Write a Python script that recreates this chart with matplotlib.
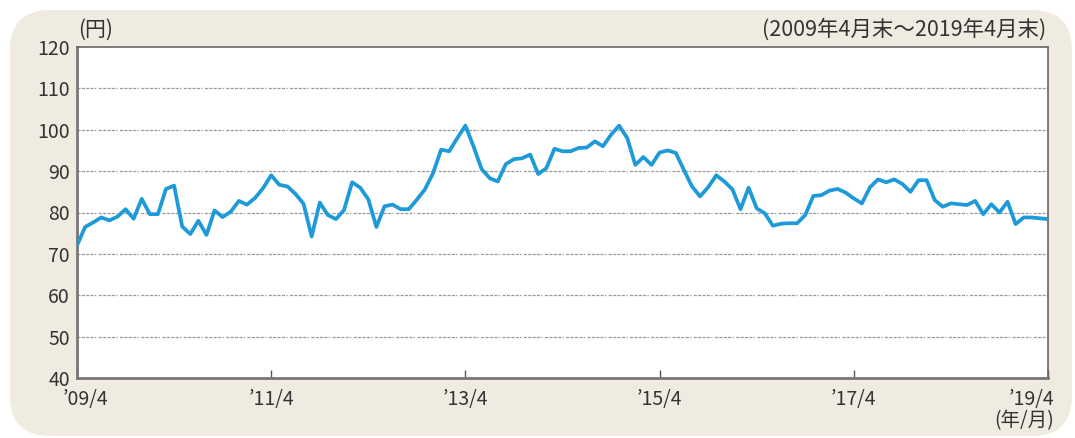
import matplotlib
matplotlib.use("Agg")
import matplotlib.pyplot as plt
from matplotlib.patches import FancyBboxPatch

plt.rcParams['font.family'] = ['Noto Sans CJK JP', 'DejaVu Sans']

values = [
    72.0, 76.5, 77.6, 78.8, 78.1, 79.0, 80.8, 78.5, 83.3, 79.6,
    79.6, 85.7, 86.5, 76.6, 74.8, 78.0, 74.6, 80.5, 78.9, 80.2,
    82.8, 81.9, 83.5, 85.9, 89.0, 86.7, 86.3, 84.5, 82.1, 74.2,
    82.4, 79.4, 78.4, 80.6, 87.3, 86.0, 83.2, 76.5, 81.5, 81.9,
    80.8, 80.8, 83.1, 85.6, 89.5, 95.2, 94.8, 98.0, 101.0, 96.0,
    90.5, 88.3, 87.5, 91.7, 92.9, 93.1, 94.0, 89.3, 90.7, 95.4,
    94.8, 94.8, 95.6, 95.7, 97.2, 96.0, 98.8, 101.0, 98.0, 91.5,
    93.4, 91.5, 94.5, 95.0, 94.4, 90.3, 86.3, 83.9, 86.1, 89.0,
    87.5, 85.6, 80.8, 86.0, 81.0, 79.8, 76.8, 77.3, 77.4, 77.4,
    79.4, 84.0, 84.2, 85.3, 85.7, 84.8, 83.4, 82.2, 86.1, 88.0,
    87.3, 88.0, 86.9, 85.0, 87.8, 87.8, 83.0, 81.4, 82.2, 82.0,
    81.8, 82.8, 79.6, 82.0, 80.0, 82.6, 77.2, 78.8, 78.8, 78.6,
    78.4,
]
months = list(range(len(values)))
xtick_pos = [0, 24, 48, 72, 96, 120]
xtick_labels = ["’09/4", "’11/4", "’13/4", "’15/4", "’17/4", "’19/4"]
yticks = [40, 50, 60, 70, 80, 90, 100, 110, 120]

W, H = 1075, 438
fig = plt.figure(figsize=(W / 100, H / 100), dpi=100)
fig.patch.set_facecolor('white')

bg = fig.add_axes([0, 0, 1, 1], zorder=-5)
bg.set_xlim(0, W)
bg.set_ylim(0, H)
bg.axis('off')
bg.add_patch(FancyBboxPatch((10, 2), 1062, H - 12, boxstyle="round,pad=0,rounding_size=40",
                            facecolor='#EFEBE1', edgecolor='none'))

L, R, T, B = 77, 1048, 47, 378
ax = fig.add_axes([L / W, (H - B) / H, (R - L) / W, (B - T) / H], zorder=1)
ax.set_facecolor('white')

ax.plot(months, values, color='#1E9AD8', linewidth=2.7, solid_joinstyle='round', zorder=3)

ax.set_xlim(0, 120)
ax.set_ylim(40, 120)
ax.set_yticks(yticks)
ax.set_yticklabels([str(v) for v in yticks], fontsize=14, color='#333333')
ax.set_xticks(xtick_pos)
ax.set_xticklabels([])

for y in [50, 60, 70, 80, 90, 100, 110]:
    ax.axhline(y, color='#9a9a9a', linewidth=0.9, linestyle=(0, (2.5, 1, 2.5, 1, 2.5, 1, 2.5, 1, 1, 2)), zorder=1)

ax.tick_params(axis='y', length=0, pad=5)
ax.tick_params(axis='x', direction='in', length=6, width=1, color='#555555')

for s in ['left', 'bottom']:
    ax.spines[s].set_color('#777777')
    ax.spines[s].set_linewidth(2.0)
for s in ['top', 'right']:
    ax.spines[s].set_color('#666666')
    ax.spines[s].set_linewidth(1.2)

for p, lab in zip(xtick_pos, xtick_labels):
    xp = L + (R - L) * p / 120
    ha = 'center'
    if p == 0:
        xp = L - 14
        ha = 'left'
    if p == 120:
        xp = R + 6
        ha = 'right'
    fig.text(xp / W, 1 - 399 / H, lab, ha=ha, va='center', fontsize=14, color='#333333')

fig.text((R + 6) / W, 1 - 421 / H, "(年/月)", ha='right', va='center', fontsize=14, color='#333333')
fig.text(78 / W, 1 - 30 / H, "(円)", ha='left', va='center', fontsize=15, color='#333333')
fig.text(1046 / W, 1 - 30 / H, "(2009年4月末～2019年4月末)", ha='right', va='center',
         fontsize=15.5, color='#333333')

fig.savefig('out.png', dpi=100, facecolor=fig.get_facecolor())
